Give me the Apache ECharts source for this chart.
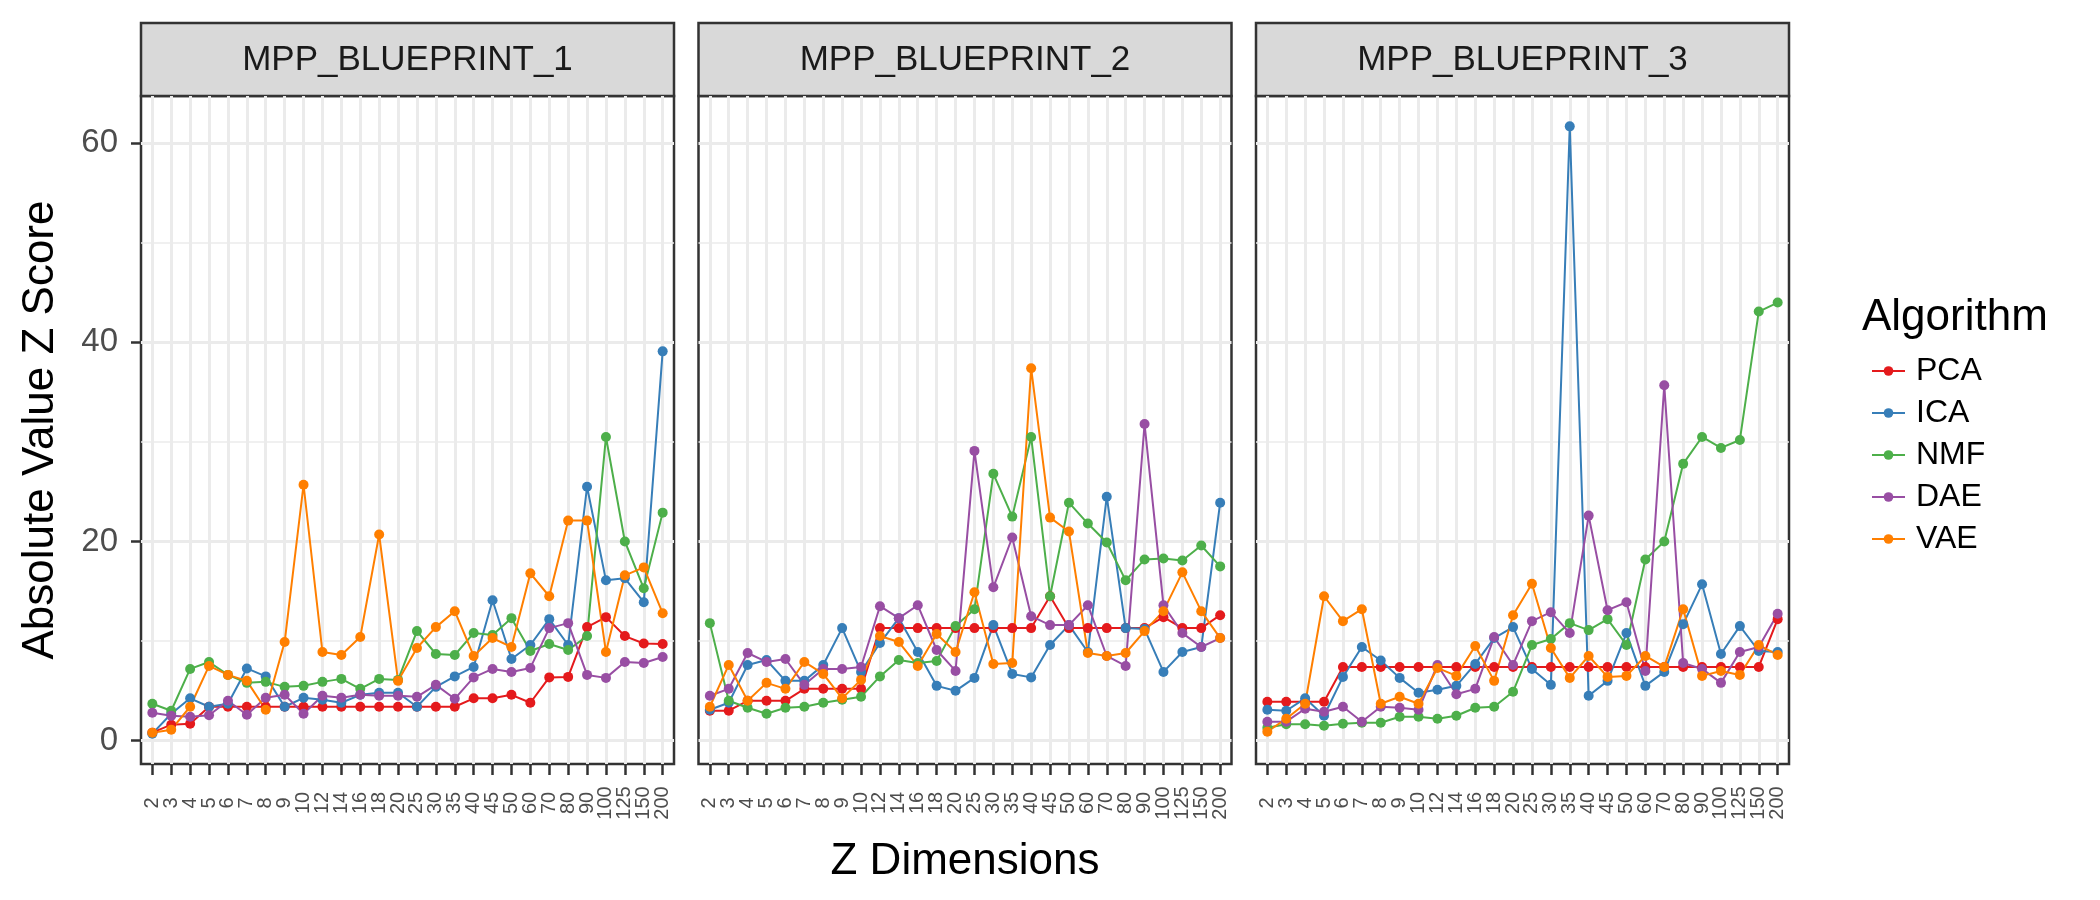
<!DOCTYPE html>
<html>
<head>
<meta charset="utf-8">
<script src="https://cdn.jsdelivr.net/npm/echarts@6/dist/echarts.min.js"></script>
<style>
  html, body { margin: 0; background: #fff; }
  #chart { width: 2100px; height: 900px; }
</style>
</head>
<body>
<div id="chart"></div>
<script>
const dims = ['2', '3', '4', '5', '6', '7', '8', '9', '10', '12', '14', '16', '18', '20',
  '25', '30', '35', '40', '45', '50', '60', '70', '80', '90', '100', '125', '150', '200'];
const algorithms = ['PCA', 'ICA', 'NMF', 'DAE', 'VAE'];
const colors = ['#E41A1C', '#377EB8', '#4DAF4A', '#984EA3', '#FF7F00'];
const panelNames = ['MPP_BLUEPRINT_1', 'MPP_BLUEPRINT_2', 'MPP_BLUEPRINT_3'];
const yTicks = [0, 20, 40, 60];
const yMinorTicks = [10, 30, 50];

// MPP_BLUEPRINT_1
const pca1 = [0.8, 1.6, 1.7, 3.4, 3.4, 3.4, 3.4, 3.4, 3.4, 3.4, 3.4, 3.4, 3.4, 3.4, 3.4, 3.4, 3.4, 4.25, 4.25, 4.6, 3.8, 6.35, 6.4, 11.4, 12.4, 10.5, 9.75, 9.7];
const ica1 = [0.7, 2.7, 4.25, 3.4, 3.7, 7.25, 6.45, 3.4, 4.3, 4.1, 3.8, 4.6, 4.8, 4.8, 3.4, 5.4, 6.45, 7.4, 14.1, 8.2, 9.6, 12.2, 9.6, 25.5, 16.1, 16.3, 13.9, 39.1];
const nmf1 = [3.7, 3.0, 7.2, 7.9, 6.6, 5.8, 5.9, 5.4, 5.5, 5.9, 6.2, 5.2, 6.2, 6.1, 11.0, 8.7, 8.6, 10.8, 10.6, 12.3, 9.0, 9.7, 9.1, 10.5, 30.5, 20.0, 15.3, 22.9];
const dae1 = [2.8, 2.5, 2.4, 2.55, 4.0, 2.6, 4.3, 4.6, 2.7, 4.5, 4.3, 4.6, 4.5, 4.5, 4.4, 5.6, 4.2, 6.35, 7.2, 6.9, 7.3, 11.3, 11.8, 6.6, 6.3, 7.9, 7.8, 8.4];
const vae1 = [0.8, 1.1, 3.4, 7.5, 6.6, 6.0, 3.1, 9.9, 25.7, 8.9, 8.6, 10.4, 20.7, 6.0, 9.3, 11.4, 13.0, 8.5, 10.3, 9.4, 16.8, 14.5, 22.1, 22.1, 8.9, 16.6, 17.4, 12.8];

// MPP_BLUEPRINT_2
const pca2 = [3.0, 3.0, 4.0, 4.0, 4.0, 5.2, 5.2, 5.2, 5.2, 11.3, 11.3, 11.3, 11.3, 11.3, 11.3, 11.3, 11.3, 11.3, 14.5, 11.3, 11.3, 11.3, 11.3, 11.3, 12.4, 11.3, 11.3, 12.6];
const ica2 = [3.1, 3.8, 7.6, 8.1, 6.0, 6.0, 7.6, 11.3, 6.9, 9.8, 12.3, 8.9, 5.5, 5.0, 6.3, 11.6, 6.7, 6.35, 9.6, 11.6, 8.9, 24.5, 11.3, 11.2, 6.9, 8.9, 9.4, 23.9];
const nmf2 = [11.8, 4.0, 3.3, 2.7, 3.3, 3.4, 3.8, 4.1, 4.4, 6.45, 8.1, 7.8, 8.0, 11.5, 13.2, 26.8, 22.5, 30.5, 14.5, 23.9, 21.8, 19.9, 16.1, 18.2, 18.3, 18.1, 19.6, 17.5];
const dae2 = [4.5, 5.2, 8.8, 7.9, 8.2, 5.6, 7.2, 7.2, 7.4, 13.5, 12.3, 13.6, 9.1, 7.0, 29.1, 15.4, 20.4, 12.5, 11.6, 11.6, 13.6, 8.5, 7.5, 31.8, 13.6, 10.8, 9.4, 10.3];
const vae2 = [3.4, 7.6, 4.0, 5.8, 5.2, 7.9, 6.7, 4.25, 6.1, 10.5, 9.9, 7.5, 10.7, 8.9, 14.9, 7.7, 7.8, 37.4, 22.4, 21.0, 8.8, 8.5, 8.8, 11.0, 13.0, 16.9, 13.0, 10.3];

// MPP_BLUEPRINT_3
const pca3 = [3.9, 3.9, 3.9, 3.9, 7.4, 7.4, 7.4, 7.4, 7.4, 7.4, 7.4, 7.4, 7.4, 7.4, 7.4, 7.4, 7.4, 7.4, 7.4, 7.4, 7.4, 7.4, 7.4, 7.4, 7.4, 7.4, 7.4, 12.2];
const ica3 = [3.1, 3.0, 4.25, 2.5, 6.4, 9.4, 8.05, 6.3, 4.8, 5.1, 5.5, 7.7, 10.3, 11.4, 7.2, 5.6, 61.7, 4.5, 6.0, 10.8, 5.5, 6.9, 11.7, 15.7, 8.7, 11.5, 9.0, 8.9];
const nmf3 = [1.3, 1.65, 1.65, 1.5, 1.7, 1.8, 1.8, 2.4, 2.4, 2.2, 2.5, 3.3, 3.4, 4.9, 9.6, 10.2, 11.8, 11.1, 12.2, 9.6, 18.2, 20.0, 27.8, 30.5, 29.4, 30.2, 43.1, 44.0];
const dae3 = [1.9, 1.9, 3.2, 2.9, 3.4, 1.9, 3.4, 3.3, 3.1, 7.6, 4.65, 5.2, 10.4, 7.6, 12.0, 12.9, 10.8, 22.6, 13.1, 13.9, 7.0, 35.7, 7.8, 7.2, 5.8, 8.9, 9.4, 12.75];
const vae3 = [0.9, 2.2, 3.7, 14.5, 12.0, 13.2, 3.7, 4.4, 3.7, 7.3, 6.5, 9.5, 6.0, 12.6, 15.75, 9.3, 6.3, 8.5, 6.4, 6.5, 8.5, 7.4, 13.2, 6.5, 7.0, 6.6, 9.6, 8.6];

const panelData = [
  [pca1, ica1, nmf1, dae1, vae1],
  [pca2, ica2, nmf2, dae2, vae2],
  [pca3, ica3, nmf3, dae3, vae3]
];

const font = 'Liberation Sans, Arial, Helvetica, sans-serif';
const panelLeft = [141, 698.5, 1256];
const panelW = 533, panelTop = 96, panelH = 668;
const stripTop = 23, stripH = 73;
const yMin = -2.35, yMax = 64.75;
// discrete x scale: positions 0..27, padded 0.6 each side like ggplot
const xIdx = dims.map((d, j) => j);
// labels split over two axes so neighbouring rotated labels never get culled
const xEven = xIdx.filter(j => j % 2 === 0);
const xOdd = xIdx.filter(j => j % 2 === 1);

const xLabel = {
  formatter: v => dims[Math.round(v)],
  showMinLabel: true, showMaxLabel: true, hideOverlap: false,
  rotate: 90, align: 'center', verticalAlign: 'middle', margin: 39, padding: [14, 0, 0, 0],
  fontSize: 20, color: '#4D4D4D', fontFamily: font
};

const grids = [], xAxes = [], yAxes = [], series = [], graphics = [];

panelLeft.forEach((left, i) => {
  grids.push({
    left: left, top: panelTop, width: panelW, height: panelH,
    show: true, backgroundColor: '#fff', borderColor: '#333333', borderWidth: 2.5
  });

  xAxes.push({
    type: 'value', gridIndex: i, position: 'bottom', min: -0.6, max: dims.length - 0.4, splitNumber: 28,
    axisLine: { show: false, onZero: false },
    axisTick: { show: true, customValues: xIdx, length: 11, lineStyle: { color: '#333333', width: 2.5 } },
    splitLine: { show: true, lineStyle: { color: '#EBEBEB', width: 3 } },
    axisLabel: Object.assign({ customValues: xEven }, xLabel)
  });
  xAxes.push({
    type: 'value', gridIndex: i, position: 'bottom', min: -0.6, max: dims.length - 0.4, splitNumber: 28,
    axisLine: { show: false, onZero: false },
    axisTick: { show: false },
    splitLine: { show: false },
    axisLabel: Object.assign({ customValues: xOdd }, xLabel)
  });

  // major y axis
  yAxes.push({
    type: 'value', gridIndex: i, min: yMin, max: yMax, position: 'left',
    axisLine: { show: false, onZero: false },
    axisTick: { show: i === 0, customValues: yTicks, length: 10, lineStyle: { color: '#333333', width: 2.5 } },
    axisLabel: { show: i === 0, customValues: yTicks, margin: 23, fontSize: 33, color: '#4D4D4D', fontFamily: font },
    splitLine: { show: true, lineStyle: { color: '#EBEBEB', width: 3 } }
  });
  // minor gridlines
  yAxes.push({
    type: 'value', gridIndex: i, min: yMin, max: yMax, position: 'left',
    axisLine: { show: false, onZero: false },
    axisTick: { show: false, customValues: yMinorTicks },
    axisLabel: { show: false, customValues: yMinorTicks },
    splitLine: { show: true, lineStyle: { color: '#EBEBEB', width: 1.5 } }
  });

  algorithms.forEach((alg, k) => {
    series.push({
      type: 'line', name: alg, xAxisIndex: 2 * i, yAxisIndex: 2 * i,
      data: panelData[i][k].map((v, j) => [xIdx[j], v]),
      symbol: 'circle', symbolSize: 10, showAllSymbol: true,
      lineStyle: { color: colors[k], width: 2 },
      itemStyle: { color: colors[k] },
      emphasis: { disabled: true },
      z: 3
    });
  });

  graphics.push({
    type: 'rect', shape: { x: left, y: stripTop, width: panelW, height: stripH },
    style: { fill: '#D9D9D9', stroke: '#333333', lineWidth: 2.5 }
  });
  graphics.push({
    type: 'text', x: left + panelW / 2, y: stripTop + stripH / 2 + 1,
    style: {
      text: panelNames[i], fontSize: 35, fontFamily: font, fill: '#1A1A1A',
      textAlign: 'center', textVerticalAlign: 'middle', align: 'center', verticalAlign: 'middle'
    }
  });
});

graphics.push({
  type: 'text', x: 41, y: panelTop + panelH / 2, rotation: Math.PI / 2,
  style: {
    text: 'Absolute Value Z Score', fontSize: 44, fontFamily: font, fill: '#000',
    textAlign: 'center', textVerticalAlign: 'middle', align: 'center', verticalAlign: 'middle'
  }
});
graphics.push({
  type: 'text', x: 965, y: 862,
  style: {
    text: 'Z Dimensions', fontSize: 44, fontFamily: font, fill: '#000',
    textAlign: 'center', textVerticalAlign: 'middle', align: 'center', verticalAlign: 'middle'
  }
});
graphics.push({
  type: 'text', x: 1862, y: 318,
  style: {
    text: 'Algorithm', fontSize: 44, fontFamily: font, fill: '#000',
    textAlign: 'left', textVerticalAlign: 'middle', align: 'left', verticalAlign: 'middle'
  }
});

const chart = echarts.init(document.getElementById('chart'));
chart.setOption({
  animation: false,
  backgroundColor: '#fff',
  grid: grids,
  xAxis: xAxes,
  yAxis: yAxes,
  legend: {
    data: algorithms, orient: 'vertical', left: 1866, top: 350,
    itemWidth: 33, itemHeight: 12, itemGap: 10,
    textStyle: { fontSize: 32, color: '#000', fontFamily: font, padding: [0, 0, 0, 6] }
  },
  graphic: graphics,
  series: series
});
</script>
</body>
</html>
